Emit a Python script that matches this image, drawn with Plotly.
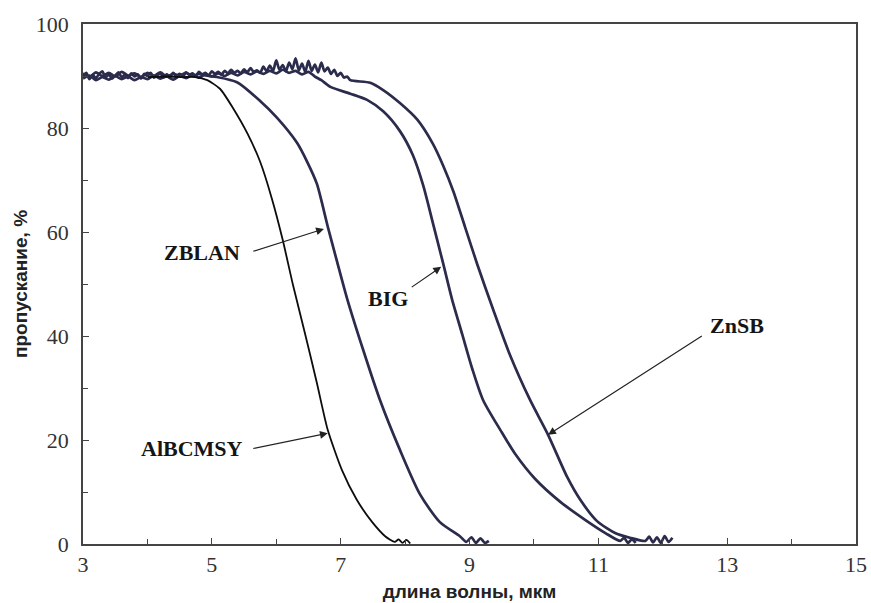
import plotly.graph_objects as go

# ---------------- data ----------------
# ZnSB: noisy plateau, then absorption edge
znsb_x = [3.00, 3.05, 3.10, 3.15, 3.20, 3.25, 3.30, 3.35, 3.40, 3.45,
          3.50, 3.55, 3.60, 3.65, 3.70, 3.75, 3.80, 3.85, 3.90, 3.95,
          4.00, 4.05, 4.10, 4.15, 4.20, 4.25, 4.30, 4.35, 4.40, 4.45,
          4.50, 4.55, 4.60, 4.65, 4.70, 4.75, 4.80, 4.85, 4.90, 4.95,
          5.00, 5.05, 5.10, 5.15, 5.20, 5.25, 5.30, 5.35, 5.40, 5.45,
          5.50, 5.55, 5.60, 5.65, 5.70, 5.75, 5.80, 5.85, 5.90, 5.95,
          6.00, 6.05, 6.10, 6.15, 6.20, 6.25, 6.30, 6.35, 6.40, 6.45,
          6.50, 6.55, 6.60, 6.65, 6.70, 6.75, 6.80, 6.85, 6.90, 6.95,
          7.00, 7.05, 7.10, 7.15, 7.46, 7.66, 7.92, 8.19, 8.43, 8.59,
          8.75, 8.93, 9.12, 9.37, 9.63, 9.94, 10.22, 10.52, 10.72, 10.98,
          11.26, 11.49, 11.73, 11.79, 11.85, 11.91, 11.97, 12.03, 12.09, 12.15]
znsb_y = [89.9, 90.6, 89.4, 90.2, 89.6, 90.4, 90.9, 89.7, 90.3, 89.5,
          90.1, 90.7, 89.8, 90.2, 89.6, 90.5, 89.9, 90.3, 89.5, 90.4,
          90.0, 90.6, 89.7, 90.1, 90.5, 89.8, 90.3, 89.9, 90.6, 90.0,
          90.4, 89.9, 90.7, 90.2, 90.5, 90.0, 90.8, 90.3, 90.6, 90.1,
          90.9, 90.4, 90.8, 90.3, 91.0, 90.5, 91.2, 90.6, 91.0, 90.5,
          91.3, 90.7, 91.5, 90.8, 91.1, 90.6, 91.8, 90.9, 92.0, 91.0,
          93.0, 91.2, 92.1, 90.9, 92.6, 91.3, 93.4, 91.1, 92.4, 90.8,
          92.9, 91.0, 92.2, 90.7, 92.6, 90.9, 91.6, 90.4, 91.2, 90.0,
          90.6, 89.7, 89.9, 89.2, 88.7, 87.3, 84.8, 81.6, 77.0, 72.8,
          67.8, 61.0, 53.8, 45.0, 36.3, 27.7, 21.0, 12.8, 8.5, 4.4,
          2.1, 1.2, 0.6, 1.4, 0.3, 1.3, 0.2, 1.5, 0.4, 1.2]

# BIG
big_x = [3.0, 3.1, 3.2, 3.3, 3.4, 3.5, 3.6, 3.7, 3.8, 3.9,
         4.0, 4.1, 4.2, 4.3, 4.4, 4.5, 4.6, 4.7, 4.8, 4.9,
         5.0, 5.1, 5.2, 5.3, 5.4, 5.5, 5.6, 5.7, 5.8, 5.9,
         6.0, 6.1, 6.2, 6.3, 6.4, 6.5, 6.6, 6.7, 6.84, 7.15,
         7.41, 7.66, 7.92, 8.12, 8.28, 8.43, 8.59, 8.73, 8.89, 9.04,
         9.21, 9.48, 9.71, 10.02, 10.41, 10.80, 11.11, 11.34, 11.40, 11.46,
         11.52, 11.58]
big_y = [89.5, 90.1, 89.2, 89.8, 89.3, 90.0, 89.4, 89.9, 89.2, 89.8,
         89.4, 90.1, 89.5, 89.9, 89.3, 90.0, 89.6, 90.2, 89.7, 90.3,
         89.9, 90.5, 90.0, 90.6, 90.1, 90.8, 90.3, 90.9, 90.4, 91.0,
         90.5, 91.2, 90.6, 91.0, 90.3, 90.8, 89.9, 89.2, 87.9, 86.6,
         85.4, 83.2, 79.4, 74.8, 69.0, 61.8, 54.0, 47.0, 40.2, 33.8,
         27.7, 21.9, 17.3, 12.5, 8.1, 4.6, 2.1, 0.6, 1.2, 0.2,
         0.9, 0.2]

# ZBLAN
zblan_x = [3.0, 3.1, 3.2, 3.3, 3.4, 3.5, 3.6, 3.7, 3.8, 3.9,
           4.0, 4.1, 4.2, 4.3, 4.4, 4.5, 4.6, 4.7, 4.8, 4.9,
           5.08, 5.39, 5.75, 6.01, 6.32, 6.48, 6.63, 6.71, 6.80, 6.94,
           7.10, 7.35, 7.61, 7.92, 8.23, 8.54, 8.85, 8.95, 9.03, 9.10,
           9.17, 9.24, 9.30]
zblan_y = [90.5, 89.8, 90.7, 90.0, 90.6, 89.9, 90.8, 90.1, 90.5, 89.8,
           90.6, 90.0, 90.7, 89.9, 90.4, 90.1, 90.6, 90.0, 90.4, 90.1,
           89.8, 88.8, 85.2, 82.0, 77.2, 73.5, 69.3, 65.6, 61.0, 54.5,
           47.2, 37.3, 27.7, 18.1, 9.6, 4.2, 1.5, 0.4, 1.3, 0.2,
           1.1, 0.2, 0.6]

# AlBCMSY
albc_x = [4.01, 4.30, 4.55, 4.74, 4.93, 5.13, 5.33, 5.55, 5.75, 5.93,
          6.10, 6.26, 6.45, 6.63, 6.80, 7.02, 7.25, 7.49, 7.69, 7.84,
          7.90, 7.96, 8.02, 8.08]
albc_y = [89.8, 89.9, 89.8, 89.8, 89.2, 87.5, 83.8, 79.0, 73.5, 66.5,
          58.5, 49.8, 40.3, 31.0, 21.9, 14.2, 8.5, 4.2, 1.5, 0.4,
          0.9, 0.2, 0.8, 0.1]

series_names = ["ZnSB", "BIG", "ZBLAN", "AlBCMSY"]

# curve labels and their arrows
label_text = ["ZBLAN", "BIG", "AlBCMSY", "ZnSB"]
label_x = [4.85, 7.74, 4.69, 13.16]
label_y = [56.0, 47.3, 18.3, 42.1]
arrow_from_x = [5.62, 8.08, 5.62, 12.63]
arrow_from_y = [56.2, 49.2, 18.3, 40.2]
arrow_to_x = [6.74, 8.56, 6.80, 10.22]
arrow_to_y = [60.6, 53.3, 21.3, 21.0]

x_title = "длина волны, мкм"
y_title = "пропускание, %"

# ---------------- figure ----------------
navy = "#2b2b4c"
fig = go.Figure()
for xs, ys, nm in [(znsb_x, znsb_y, series_names[0]),
                   (big_x, big_y, series_names[1]),
                   (zblan_x, zblan_y, series_names[2])]:
    fig.add_trace(go.Scatter(x=xs, y=ys, mode="lines", name=nm,
                             line=dict(color=navy, width=2.7, shape="spline",
                                       smoothing=0.7)))
fig.add_trace(go.Scatter(x=albc_x, y=albc_y, mode="lines", name=series_names[3],
                         line=dict(color="#0d0d0d", width=1.8, shape="spline",
                                   smoothing=0.6)))

for t, tx, ty, fx, fy, px, py in zip(label_text, label_x, label_y,
                                     arrow_from_x, arrow_from_y, arrow_to_x, arrow_to_y):
    fig.add_annotation(x=tx, y=ty, xref="x", yref="y", text="<b>" + t + "</b>",
                       showarrow=False,
                       font=dict(family="Liberation Serif", size=22, color="#151515"))
    fig.add_annotation(x=px, y=py, ax=fx, ay=fy, xref="x", yref="y",
                       axref="x", ayref="y", text="", showarrow=True,
                       arrowhead=2, arrowsize=1.3, arrowwidth=1.2, arrowcolor="#222")

axis_common = dict(showline=True, mirror=True, linecolor="#444", linewidth=1.5,
                   showgrid=False, zeroline=False, ticks="inside", ticklen=6,
                   tickwidth=1.3, tickcolor="#444", automargin=False,
                   tickfont=dict(family="Liberation Serif", size=22, color="#333"))

fig.update_xaxes(range=[3, 15], tick0=3, dtick=2, ticklabelstandoff=0,
                 minor=dict(dtick=1, ticks="inside", ticklen=5, tickcolor="#444"),
                 title=dict(text="<b>" + x_title + "</b>", standoff=9,
                            font=dict(family="Liberation Sans", size=19, color="#222")),
                 **axis_common)
fig.update_yaxes(range=[0, 100], tick0=0, dtick=20, ticklabelstandoff=8,
                 minor=dict(dtick=10, ticks="inside", ticklen=5, tickcolor="#444"),
                 title=dict(text="<b>" + y_title + "</b>", standoff=3,
                            font=dict(family="Liberation Sans", size=19, color="#222")),
                 **axis_common)

fig.update_layout(width=871, height=603, showlegend=False,
                  margin=dict(l=83, r=15, t=24, b=59),
                  plot_bgcolor="white", paper_bgcolor="white")

fig.write_html("out.html")
